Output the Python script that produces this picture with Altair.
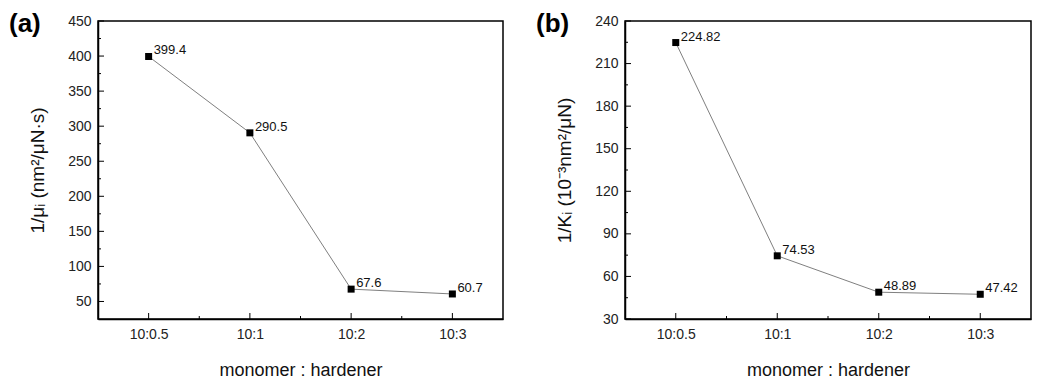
import altair as alt
import pandas as pd

categories = ["10:0.5", "10:1", "10:2", "10:3"]
mu_values = [399.4, 290.5, 67.6, 60.7]
mu_labels = ["399.4", "290.5", "67.6", "60.7"]
k_values = [224.82, 74.53, 48.89, 47.42]
k_labels = ["224.82", "74.53", "48.89", "47.42"]

mu_major = [50, 100, 150, 200, 250, 300, 350, 400, 450]
mu_minor = [75, 125, 175, 225, 275, 325, 375, 425]
k_major = [30, 60, 90, 120, 150, 180, 210, 240]
k_minor = [45, 75, 105, 135, 165, 195, 225]
x_major = [0, 1, 2, 3]
x_minor = [0.5, 1.5, 2.5]

FONT = "Liberation Sans"
H = 298

label_expr = "[" + ",".join("'" + c + "'" for c in categories) + "][datum.value]"


def panel(vals, labs, ydom, ymaj, ymin, ytitle, tag, w):
    df = pd.DataFrame({"idx": list(range(len(categories))), "cat": categories,
                       "v": vals, "lab": labs})
    xs = alt.X("idx:Q",
               scale=alt.Scale(domain=[-0.5, 3.5], nice=False, zero=False),
               axis=alt.Axis(values=x_major, labelExpr=label_expr, tickCount=20,
                             title="monomer : hardener", tickSize=0, grid=False,
                             labelPadding=8, titlePadding=20, labelFontSize=14,
                             titleFontSize=18, labelOverlap=False))
    ys = alt.Y("v:Q",
               scale=alt.Scale(domain=ydom, nice=False, zero=False),
               axis=alt.Axis(values=ymaj, title=ytitle, tickSize=0, grid=False,
                             tickCount=20,
                             labelPadding=7, titlePadding=20, labelFontSize=14,
                             titleFontSize=19, labelOverlap=False))
    base = alt.Chart(df)
    line = base.mark_line(color="#707070", strokeWidth=0.9).encode(x=xs, y=ys)
    pts = base.mark_square(size=49, color="black", opacity=1).encode(x="idx:Q", y="v:Q")
    txt = base.mark_text(align="left", baseline="middle", dx=5, dy=-6,
                         fontSize=13, font=FONT, color="#111").encode(
        x="idx:Q", y="v:Q", text="lab:N")

    ymaj_t = alt.Chart(pd.DataFrame({"v": ymaj})).mark_rule(color="black", strokeWidth=1).encode(
        y="v:Q", x=alt.value(0), x2=alt.value(6))
    ymin_t = alt.Chart(pd.DataFrame({"v": ymin})).mark_rule(color="black", strokeWidth=1).encode(
        y="v:Q", x=alt.value(0), x2=alt.value(3))
    xmaj_t = alt.Chart(pd.DataFrame({"idx": x_major})).mark_rule(color="black", strokeWidth=1).encode(
        x="idx:Q", y=alt.value(H), y2=alt.value(H - 6))
    xmin_t = alt.Chart(pd.DataFrame({"idx": x_minor})).mark_rule(color="black", strokeWidth=1).encode(
        x="idx:Q", y=alt.value(H), y2=alt.value(H - 3))
    tag_t = alt.Chart(pd.DataFrame({"t": [tag]})).mark_text(
        align="left", baseline="top", fontSize=26, fontWeight="bold", font=FONT,
        color="black").encode(text="t:N", x=alt.value(-89), y=alt.value(-10))

    return alt.layer(line, pts, txt, ymaj_t, ymin_t, xmaj_t, xmin_t, tag_t).properties(
        width=w, height=H)


a = panel(mu_values, mu_labels, [25, 450], mu_major, mu_minor,
          "1/μᵢ (nm²/μN·s)", "(a)", 405)
b = panel(k_values, k_labels, [30, 240], k_major, k_minor,
          "1/Kᵢ (10⁻³nm²/μN)", "(b)", 406)

chart = alt.hconcat(a, b, spacing=31).properties(
    padding={"left": 0, "top": 2, "right": 0, "bottom": 0}
).configure_view(
    stroke="black", strokeWidth=1.5
).configure_axis(
    domainColor="black", domainWidth=1.5, labelFont=FONT, titleFont=FONT,
    labelColor="#222222", titleColor="#111111", titleFontWeight="normal"
)

chart.save("out.html", embed_options={"renderer": "svg", "actions": False})
